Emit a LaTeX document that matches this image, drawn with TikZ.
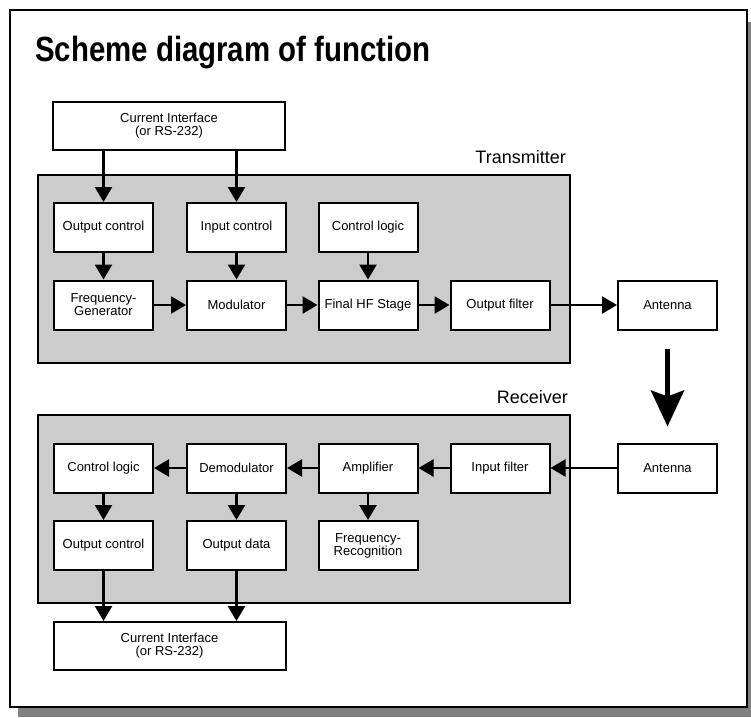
\documentclass[tikz,border=0pt]{standalone}
\usepackage{fontspec}
\setmainfont{Liberation Sans}
\usetikzlibrary{arrows.meta}
\definecolor{panelgray}{RGB}{204,204,204}
\definecolor{shadowgray}{RGB}{128,128,128}
\begin{document}
\begin{tikzpicture}[x=1pt,y=-1pt,
  box/.style={draw, fill=white, line width=2pt, minimum width=99pt, minimum height=49pt, inner sep=0pt, align=center, font=\fontsize{13}{13}\selectfont},
  wide/.style={box, minimum width=232pt, minimum height=48pt},
  panel/.style={draw, fill=panelgray, line width=2pt, minimum width=532pt, minimum height=188pt, inner sep=0pt},
  conn/.style={line width=2.5pt, -{Triangle[width=17pt,length=15pt]}},
  bigarrow/.style={line width=5pt, -{Stealth[width=33pt,length=36pt,inset=6pt]}},
  lbl/.style={font=\fontsize{18}{18}\selectfont, inner sep=0pt, anchor=base east}
]
\useasboundingbox (0,0) rectangle (751,717);
\fill[shadowgray] (18,22) rectangle (751,717);
\draw[line width=2.5pt, fill=white] (10,10) rectangle (747,707);

\node[anchor=base west, inner sep=0pt, font=\fontsize{35}{35}\selectfont\bfseries] (title) at (35,62) {\scalebox{0.84}[1]{Scheme\ diagram\ of\ function}};

\node[panel] (tx) at (304,269) {};
\node[panel] (rx) at (304,509) {};
\node[lbl] (txl) at (566,163) {Transmitter};
\node[lbl] (rxl) at (568,403) {Receiver};

\node[wide] (ci1) at (169,126) {Current Interface\\(or RS-232)};
\node[box] (oc1) at (103.5,227.5) {Output control};
\node[box] (ic1) at (236.5,227.5) {Input control};
\node[box] (cl1) at (368,227.5) {Control logic};
\node[box] (fg1) at (103.5,305) {Frequency-\\Generator};
\node[box] (mod) at (236.5,305) {Modulator};
\node[box] (fhf) at (368,305) {Final HF Stage};
\node[box] (of1) at (500,305) {Output filter};
\node[box] (ant1) at (667.5,305) {Antenna};

\node[box] (cl2) at (103.5,468) {Control logic};
\node[box] (dem) at (236.5,468) {Demodulator};
\node[box] (amp) at (368,468) {Amplifier};
\node[box] (if2) at (500,468) {Input filter};
\node[box] (ant2) at (667.5,468) {Antenna};
\node[box] (oc2) at (103.5,545.5) {Output control};
\node[box] (od2) at (236.5,545.5) {Output data};
\node[box] (fr2) at (368,545.5) {Frequency-\\Recognition};
\node[wide] (ci2) at (169.5,646) {Current Interface\\(or RS-232)};

\draw[conn] (oc1.north |- ci1.south) -- (oc1.north);
\draw[conn] (ic1.north |- ci1.south) -- (ic1.north);
\draw[conn] (oc1) -- (fg1);
\draw[conn] (ic1) -- (mod);
\draw[conn] (cl1) -- (fhf);
\draw[conn] (fg1) -- (mod);
\draw[conn] (mod) -- (fhf);
\draw[conn] (fhf) -- (of1);
\draw[conn] (of1) -- (ant1);
\draw[bigarrow, shorten <=18pt, shorten >=16pt] (ant1) -- (ant2);
\draw[conn] (ant2) -- (if2);
\draw[conn] (if2) -- (amp);
\draw[conn] (amp) -- (dem);
\draw[conn] (dem) -- (cl2);
\draw[conn] (cl2) -- (oc2);
\draw[conn] (dem) -- (od2);
\draw[conn] (amp) -- (fr2);
\draw[conn] (oc2.south) -- (oc2.south |- ci2.north);
\draw[conn] (od2.south) -- (od2.south |- ci2.north);
\end{tikzpicture}
\end{document}
